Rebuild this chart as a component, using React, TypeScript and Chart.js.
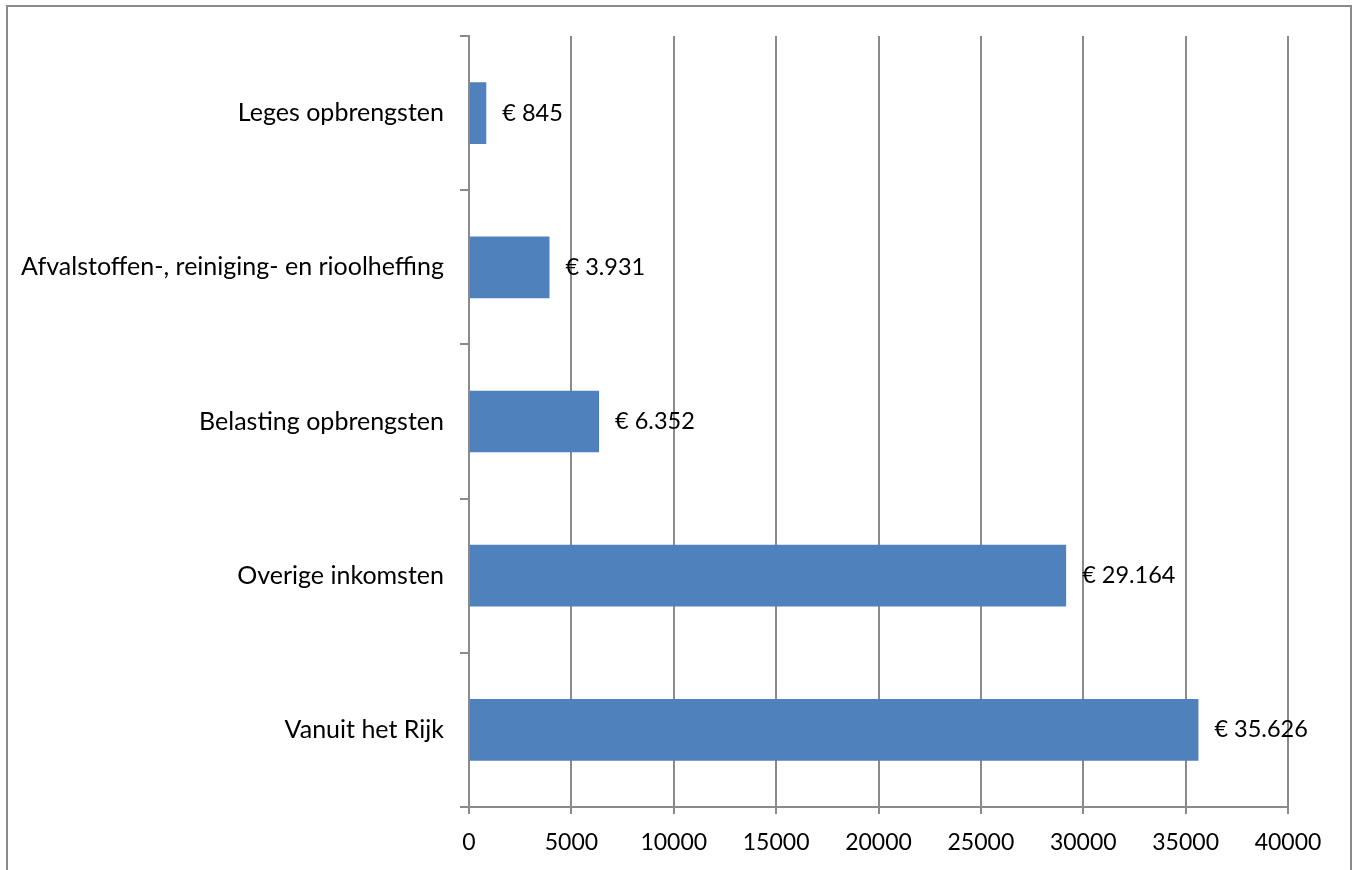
import React, { useEffect, useRef } from "react";
import Chart from "chart.js/auto";

const categories = [
  "Leges opbrengsten",
  "Afvalstoffen-, reiniging- en rioolheffing",
  "Belasting opbrengsten",
  "Overige inkomsten",
  "Vanuit het Rijk",
];
const values = [845, 3931, 6352, 29164, 35626];
const xMin = 0;
const xMax = 40000;
const xStep = 5000;

const FONT = "Lato";
const GRID = "#8a8a8a";

function fmt(v: number) {
  return "€ " + v.toString().replace(/\B(?=(\d{3})+(?!\d))/g, ".");
}

export default function App() {
  const ref = useRef<HTMLCanvasElement>(null);
  useEffect(() => {
    if (!ref.current) return;
    const labelPlugin = {
      id: "valLabels",
      afterDatasetsDraw(chart: any) {
        const ctx = chart.ctx;
        const meta = chart.getDatasetMeta(0);
        ctx.save();
        ctx.fillStyle = "#000";
        ctx.font = `23.5px ${FONT}`;
        ctx.textAlign = "left";
        ctx.textBaseline = "middle";
        meta.data.forEach((el: any, i: number) => {
          ctx.fillText(fmt(values[i]), el.x + 16, el.y);
        });
        ctx.restore();
      },
    };
    const framePlugin = {
      id: "frame",
      beforeDraw(chart: any) {
        const ctx = chart.ctx;
        ctx.save();
        ctx.fillStyle = "#fff";
        ctx.fillRect(0, 0, chart.width, chart.height);
        ctx.restore();
      },
      afterDraw(chart: any) {
        const ctx = chart.ctx;
        ctx.save();
        ctx.strokeStyle = GRID;
        ctx.lineWidth = 2;
        ctx.strokeRect(7, 6, 1344, 900);
        ctx.restore();
      },
    };
    const chart = new Chart(ref.current, {
      type: "bar",
      data: {
        labels: categories,
        datasets: [
          {
            data: values,
            backgroundColor: "#4F81BD",
            borderWidth: 0,
            barPercentage: 0.4,
            categoryPercentage: 1,
          },
        ],
      },
      options: {
        indexAxis: "y",
        animation: false,
        responsive: false,
        maintainAspectRatio: false,
        layout: { padding: { top: 36, right: 69, left: 0, bottom: 0 } },
        plugins: { legend: { display: false }, tooltip: { enabled: false } },
        scales: {
          x: {
            type: "linear",
            min: xMin,
            max: xMax,
            ticks: {
              stepSize: xStep,
              color: "#000",
              font: { family: FONT, size: 23 },
              padding: 15,
              maxRotation: 0,
              callback: (v: any) => String(v),
            },
            grid: { color: GRID, lineWidth: 2, tickLength: 7, drawTicks: true },
            border: { display: true, color: GRID, width: 2 },
            afterFit(scale: any) {
              scale.height = 63;
            },
          },
          y: {
            type: "category",
            offset: true,
            ticks: {
              color: "#000",
              font: { family: FONT, size: 25 },
              padding: 16,
            },
            grid: {
              offset: true,
              drawOnChartArea: false,
              drawTicks: true,
              tickLength: 9,
              color: GRID,
              lineWidth: 2,
            },
            border: { display: true, color: GRID, width: 2 },
            afterFit(scale: any) {
              scale.width = 469;
            },
          },
        },
      },
      plugins: [labelPlugin, framePlugin],
    });
    return () => chart.destroy();
  }, []);
  return (
    <div style={{ position: "fixed", left: 0, top: 0, width: 1357, height: 870 }}>
      <canvas ref={ref} width={1357} height={870} style={{ display: "block" }} />
    </div>
  );
}
